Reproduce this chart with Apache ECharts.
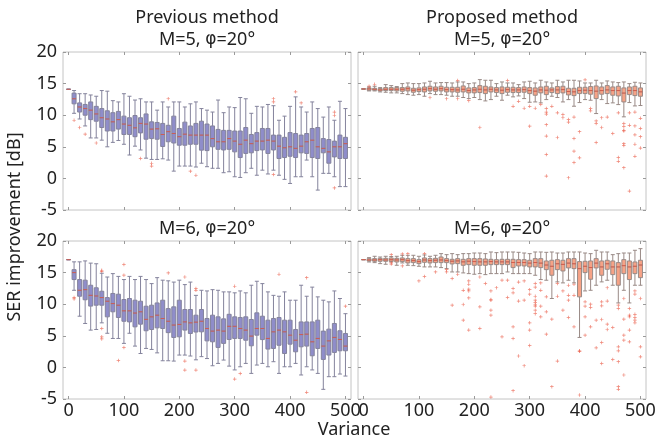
<!DOCTYPE html>
<html>
<head>
<meta charset="utf-8">
<script src="https://cdn.jsdelivr.net/npm/echarts@6/dist/echarts.min.js"></script>
<style>
html,body{margin:0;padding:0;background:#fff;}
#chart{width:664px;height:440px;}
</style>
</head>
<body>
<div id="chart"></div>
<script>
// ---------- data ----------
const variance = [0,10,20,30,40,50,60,70,80,90,100,110,120,130,140,150,160,170,180,190,200,210,220,230,240,250,260,270,280,290,300,310,320,330,340,350,360,370,380,390,400,410,420,430,440,450,460,470,480,490,500];
const xTickValues = [0,100,200,300,400,500];
const yTickValues = [-5,0,5,10,15,20];
const panelTitles = ['Previous method\nM=5, {p|φ}=20°','Proposed method\nM=5, {p|φ}=20°','M=6, {p|φ}=20°','M=6, {p|φ}=20°'];
const xAxisName = 'Variance';
const yAxisName = 'SER improvement [dB]';

// Previous method, M=5
const prevM5Low = [14.1,10.3,9.4,8.3,6.4,6.4,6.05,5.0,5.7,6.0, 5.4,3.7,5.1,4.5,3.2,3.0,3.0,3.1,2.9,1.15, 1.95,1.95,1.95,1.8,2.4,1.85,1.6,1.6,0.9,1.05, 0.26,0.15,0.9,1.6,0.5,1.3,0.7,1.3,0.5,-0.15, -0.8,0.26,0.26,2.9,0.26,-1.85,0.8,0.8,0.26,-1.3, -1.3];
const prevM5Q1 = [14.1,11.8,10.5,10.0,9.3,9.05,8.05,7.5,7.5,7.8, 6.95,6.95,6.6,7.2,6.2,6.3,6.2,5.05,5.8,5.6, 5.25,5.25,5.4,5.4,4.47,4.4,5.0,4.6,4.5,4.6, 4.2,3.3,3.95,4.05,4.4,4.5,3.95,4.5,3.15,3.3, 3.5,3.3,4.05,3.95,3.3,3.15,4.05,2.4,3.4,3.15, 3.15];
const prevM5Med = [14.1,12.6,11.3,11.05,10.8,10.2,9.6,9.4,8.95,9.3, 8.6,8.4,8.0,8.7,8.6,7.8,7.85,6.95,7.4,7.1, 6.6,7.0,6.85,6.85,6.85,6.85,6.3,5.8,5.8,6.3, 5.9,5.4,6.05,5.5,5.9,5.9,6.05,5.9,5.1,4.85, 5.0,4.75,5.1,5.8,6.05,5.0,4.75,4.2,5.0,5.0, 5.5];
const prevM5Q3 = [14.1,13.5,11.95,11.7,12.1,11.4,11.05,10.7,10.4,10.6, 9.85,9.6,9.95,9.6,10.2,8.95,8.85,8.7,8.4,9.85, 7.9,8.9,8.3,8.7,9.05,8.6,8.3,7.75,7.6,7.6, 7.5,7.5,8.05,6.95,7.25,7.9,7.9,6.85,6.85,6.5, 7.25,7.1,6.85,7.1,7.9,8.05,6.3,6.15,5.9,6.85, 6.5];
const prevM5High = [14.1,13.9,13.4,13.4,13.2,13.0,13.9,13.8,12.3,12.1, 13.4,13.0,12.4,12.6,12.1,12.1,10.8,12.1,11.3,12.1, 12.1,11.3,11.8,12.1,11.05,10.8,10.5,12.4,10.4,11.3, 11.2,12.8,12.6,10.3,11.4,11.3,11.7,11.5,9.2,9.85, 11.4,12.9,11.3,10.5,12.1,11.05,9.7,11.3,9.2,12.2, 11.05];
const prevM5Outliers = [[10,9.2],[20,8.05],[30,7.0],[50,5.6],[130,3.16],[150,2.4],[150,1.95],[180,12.6],[220,1.15],[230,0.5],[370,12.6],[370,12.1],[370,0.6],[410,13.7],[420,11.95],[480,10.5],[480,9.95],[480,-1.5]];

// Proposed method, M=5
const propM5Low = [14.15,13.84,13.84,13.68,13.63,13.53,13.53,13.42,13.26,13.16, 13.26,13.0,13.42,13.26,13.26,13.16,13.0,13.0,12.8,12.63, 12.8,12.47,12.26,12.47,13.0,12.37,13.16,12.9,13.05,12.63, 12.05,12.1,11.95,12.47,13.0,12.8,12.1,12.47,11.42,12.0, 12.47,12.37,10.26,12.47,11.84,11.95,11.68,9.74,12.0,11.47, 11.53];
const propM5Q1 = [14.15,13.95,13.95,13.84,13.89,13.89,13.84,13.79,13.84,13.63, 13.74,13.68,13.84,13.79,13.84,13.68,13.68,13.63,13.68,13.53, 13.53,13.58,13.42,13.68,13.58,13.42,13.63,13.58,13.58,13.63, 13.42,13.16,13.53,13.26,13.58,13.42,13.53,13.21,13.1,13.42, 13.42,13.32,12.63,13.32,13.42,13.16,13.05,12.1,13.26,13.1, 13.0];
const propM5Med = [14.15,14.16,14.1,14.0,14.1,14.1,14.1,14.1,14.2,13.95, 14.05,14.1,14.2,14.1,14.2,14.05,14.05,14.0,14.1,13.9, 14.0,14.1,14.0,14.1,14.0,13.95,14.05,14.0,14.0,14.05, 13.9,13.8,14.0,13.95,14.0,14.0,14.05,13.75,13.7,13.9, 13.95,13.9,13.8,13.9,14.0,13.9,13.9,13.5,13.9,13.9, 13.7];
const propM5Q3 = [14.15,14.32,14.26,14.21,14.37,14.37,14.37,14.37,14.47,14.26, 14.32,14.47,14.58,14.47,14.58,14.42,14.42,14.42,14.63,14.32, 14.37,14.68,14.58,14.47,14.37,14.47,14.42,14.42,14.37,14.47, 14.37,14.32,14.47,14.58,14.32,14.53,14.58,14.26,14.26,14.42, 14.42,14.53,14.63,14.47,14.68,14.47,14.58,14.32,14.47,14.58, 14.32];
const propM5High = [14.15,14.47,14.58,14.37,14.84,14.68,14.53,15.0,15.1,15.0, 15.0,15.1,15.37,15.1,15.16,15.16,15.1,15.26,15.26,15.0, 15.1,15.63,15.53,15.53,15.0,15.26,15.1,15.1,14.84,15.26, 15.37,15.1,15.53,15.26,15.1,15.53,15.26,15.53,15.53,15.42, 15.1,15.1,15.53,15.1,15.42,15.26,15.16,15.26,15.0,15.21, 15.1];
const propM5Outliers = [[10,14.6],[20,14.9],[120,12.8],[150,12.6],[170,15.5],[170,12.6],[190,12.3],[210,8.05],[260,15.5],[270,11.4],[280,12.2],[290,11.1],[300,11.4],[300,8.26],[310,11.1],[320,11.7],[330,11.05],[330,10.5],[330,10.16],[330,8.5],[330,6.7],[330,3.8],[330,0.37],[340,11.4],[350,10.37],[350,6.47],[360,10.1],[360,9.6],[370,9.3],[370,8.9],[370,0.1],[380,9.7],[380,6.3],[380,4.3],[380,2.5],[390,7.4],[390,3.26],[400,15.6],[410,11.05],[410,10.7],[420,9.1],[420,8.7],[420,5.7],[430,9.6],[430,8.05],[440,9.7],[450,7.1],[460,10.37],[460,3.3],[460,2.7],[470,8.7],[470,8.2],[470,7.6],[470,7.5],[470,5.5],[470,5.2],[470,1.7],[480,10.37],[480,8.4],[480,-2.0],[490,10.5],[490,8.3],[490,6.9],[490,5.4],[490,3.5],[500,9.5],[500,7.9],[500,6.6],[500,4.8]];

// Previous method, M=6
const prevM6Low = [17.05,12.2,8.1,6.95,5.9,6.0,7.05,5.4,4.58,4.58, 3.8,5.4,3.37,2.2,3.0,2.84,2.3,1.05,1.05,1.0, 1.95,1.95,1.8,1.2,1.7,1.4,0.26,0.63,1.16,0.2, -0.4,0.1,0.63,-0.95,0.37,0.63,0.1,0.9,-0.95,0.1, 0.1,0.63,-1.2,0.1,-0.4,-0.95,-3.47,-1.47,-1.47,-1.05, -1.37];
const prevM6Q1 = [17.05,13.9,11.26,10.7,9.7,9.84,9.84,8.0,8.8,7.9, 7.3,7.2,6.42,6.84,5.8,6.0,6.26,6.16,5.5,4.74, 4.84,5.9,5.37,5.6,5.63,4.2,4.05,3.16,3.8,4.42, 4.58,4.58,4.3,3.42,5.1,4.4,2.9,3.0,3.5,2.2, 3.68,2.47,3.26,3.37,1.84,3.0,1.26,1.95,2.37,2.63, 2.63];
const prevM6Med = [17.05,15.0,12.2,12.3,11.4,11.3,11.05,10.47,10.1,9.84, 8.95,8.95,8.6,8.8,7.6,8.0,8.26,7.74,7.3,6.7, 6.8,7.2,7.05,7.16,7.3,6.16,5.74,5.9,5.74,6.5, 6.5,6.16,5.9,4.95,6.16,6.16,4.58,5.63,5.9,5.63, 5.1,4.3,5.2,5.26,4.05,4.58,3.37,4.2,4.74,4.42, 3.37];
const prevM6Q3 = [17.05,15.47,13.9,13.8,13.0,12.6,12.05,11.05,11.7,11.58, 10.74,10.9,10.63,10.47,9.68,9.84,10.2,10.63,9.3,9.58, 10.63,9.16,9.16,8.26,9.16,7.74,8.26,8.0,7.68,8.4, 8.0,7.9,8.0,7.58,8.63,8.1,7.47,7.74,7.9,7.47, 7.47,6.0,7.2,7.2,7.2,7.47,5.74,6.05,6.95,5.8, 5.37];
const prevM6High = [17.05,16.7,16.7,16.85,16.5,16.4,14.9,14.3,14.84,14.4, 13.9,14.4,13.9,14.4,13.9,13.26,14.2,13.8,13.7,13.5, 13.8,13.1,13.5,11.4,12.2,12.1,12.3,12.2,11.95,11.95, 11.8,12.1,11.8,13.0,13.63,13.26,11.95,11.4,11.26,11.95, 10.63,10.63,13.0,11.26,12.7,11.16,10.63,10.37,12.1,10.9, 8.5];
const prevM6Outliers = [[10,11.05],[10,10.84],[60,15.37],[60,15.2],[60,6.16],[60,4.84],[60,4.5],[90,1.1],[100,16.3],[100,14.6],[100,3.16],[180,14.95],[210,14.3],[210,1.0],[210,-0.42],[230,12.47],[230,12.2],[230,-0.42],[300,12.84],[300,-1.84],[310,-0.95],[380,14.74],[430,14.2],[430,-3.95],[500,9.68]];

// Proposed method, M=6
const propM6Low = [17.05,16.68,16.58,16.42,16.32,16.7,16.16,16.53,16.16,16.1, 16.0,15.9,15.9,15.9,15.79,15.63,15.1,15.1,14.95,14.84, 14.74,14.84,14.68,14.84,14.84,14.84,15.1,14.84,14.84,14.84, 14.84,14.58,13.9,13.79,10.9,13.53,13.37,13.79,13.37,4.74, 12.1,12.2,13.0,13.53,13.79,13.0,10.2,12.2,10.2,13.0, 13.0];
const propM6Q1 = [17.05,16.84,16.79,16.79,16.79,16.79,16.68,16.74,16.53,16.58, 16.42,16.63,16.53,16.58,16.58,16.58,16.37,16.42,16.16,16.26, 16.16,16.16,16.16,16.26,16.26,16.26,16.26,15.79,16.05,16.05, 15.9,15.9,15.79,15.47,14.58,15.47,15.26,15.74,15.63,11.16, 15.0,13.95,15.74,14.58,15.53,14.68,13.0,14.84,13.9,14.84, 14.2];
const propM6Med = [17.05,17.0,17.0,17.05,17.0,17.05,17.0,17.05,16.9,16.9, 16.75,17.0,16.9,16.95,17.0,16.9,16.8,16.85,16.7,16.8, 16.75,16.7,16.7,16.75,16.7,16.7,16.7,16.6,16.6,16.6, 16.5,16.6,16.5,16.2,16.0,16.4,16.3,16.5,16.4,15.63, 16.0,15.8,16.5,15.9,16.4,15.9,15.9,16.1,15.9,16.0, 16.2];
const propM6Q3 = [17.05,17.2,17.21,17.26,17.26,17.32,17.26,17.32,17.21,17.21, 17.05,17.32,17.21,17.26,17.47,17.21,17.1,17.21,17.1,17.21, 17.21,17.21,17.16,17.1,17.05,17.1,17.1,17.1,17.05,17.05, 16.95,17.21,17.21,16.84,16.95,17.05,16.95,17.21,17.21,16.74, 16.79,16.84,17.21,16.84,16.95,16.84,16.58,17.05,16.84,16.68, 16.95];
const propM6High = [17.05,17.37,17.58,17.47,17.58,17.55,17.58,17.74,17.74,17.74, 17.58,17.79,17.58,17.74,18.0,17.84,18.0,17.84,18.0,18.0, 18.1,18.1,18.0,18.26,18.16,18.26,18.26,18.26,18.21,18.1, 18.0,18.26,18.26,18.21,18.26,18.1,18.1,18.26,18.26,18.26, 18.1,18.0,18.53,18.26,18.26,17.84,18.0,18.1,18.1,18.53, 18.79];
const propM6Outliers = [[50,17.84],[50,16.55],[50,16.35],[70,17.95],[70,16.05],[80,18.0],[100,13.68],[110,18.0],[110,14.4],[130,15.1],[150,15.47],[150,15.1],[160,14.05],[160,9.84],[170,14.74],[180,12.2],[180,9.95],[180,7.47],[190,13.68],[190,13.16],[190,12.37],[190,12.1],[190,11.0],[190,5.9],[210,14.3],[210,9.58],[210,6.16],[220,13.26],[230,12.1],[230,10.74],[230,10.63],[230,9.05],[230,8.26],[230,-4.7],[240,12.6],[250,13.8],[250,4.84],[260,13.8],[260,11.05],[270,12.47],[270,11.8],[270,6.42],[270,4.58],[270,-3.68],[280,13.5],[280,10.5],[280,1.8],[290,13.68],[290,10.63],[290,0.26],[300,12.3],[300,11.58],[300,7.05],[300,5.9],[300,3.47],[310,13.26],[310,12.7],[310,11.26],[310,10.63],[310,10.3],[310,9.9],[310,9.68],[310,9.05],[310,8.5],[320,13.37],[320,12.2],[320,9.68],[320,8.0],[330,11.16],[330,8.8],[330,5.26],[340,7.63],[340,-3.05],[350,13.26],[350,11.26],[350,1.0],[360,12.1],[360,9.05],[370,13.0],[370,11.4],[370,10.63],[370,7.9],[380,13.16],[380,11.4],[380,6.42],[390,2.63],[390,2.55],[390,-4.37],[400,10.37],[400,9.68],[400,8.0],[400,5.1],[410,10.0],[410,9.47],[410,6.42],[420,7.47],[420,3.1],[430,10.37],[430,9.74],[430,7.58],[430,3.95],[430,0.63],[440,12.6],[440,10.5],[440,6.84],[440,6.0],[450,6.3],[450,1.26],[460,9.84],[460,9.3],[460,3.26],[460,2.63],[460,0.9],[460,-3.05],[460,-3.47],[470,10.9],[470,7.63],[470,5.1],[470,4.3],[470,-1.2],[480,9.3],[480,8.26],[480,8.0],[480,5.9],[480,4.05],[490,12.1],[490,11.58],[490,8.4],[490,7.9],[490,7.47],[490,7.05],[500,10.9],[500,3.26],[500,1.68]];

// ---------- chart ----------
const FONT = '"Noto Sans", "Open Sans", sans-serif';
const TEXT = '#222';
const FS = 18;
const panels = [
  {low:prevM5Low,q1:prevM5Q1,med:prevM5Med,q3:prevM5Q3,high:prevM5High,out:prevM5Outliers,fill:'#8f8dca',border:'#84839c',grid:{left:63,top:52,width:288,height:158},yLab:true,xLab:false},
  {low:propM5Low,q1:propM5Q1,med:propM5Med,q3:propM5Q3,high:propM5High,out:propM5Outliers,fill:'#f6a286',border:'#998a86',grid:{left:358,top:52,width:288,height:158},yLab:false,xLab:false},
  {low:prevM6Low,q1:prevM6Q1,med:prevM6Med,q3:prevM6Q3,high:prevM6High,out:prevM6Outliers,fill:'#8f8dca',border:'#84839c',grid:{left:63,top:241,width:288,height:158},yLab:true,xLab:true},
  {low:propM6Low,q1:propM6Q1,med:propM6Med,q3:propM6Q3,high:propM6High,out:propM6Outliers,fill:'#f6a286',border:'#998a86',grid:{left:358,top:241,width:288,height:158},yLab:false,xLab:true}
];

const grids=[], xAxes=[], yAxes=[], series=[];
const tickStyle = {show:true, inside:true, length:3, lineStyle:{color:'#9a9a9a', width:1}};
const noLine = {show:false, onZero:false};
panels.forEach((p,i)=>{
  grids.push(Object.assign({show:true, borderColor:'#c4c4c4', borderWidth:1, backgroundColor:'#fff', containLabel:false}, p.grid));
  xAxes.push({type:'value', gridIndex:i, min:-10, max:510, position:'bottom',
    axisLine:noLine, splitLine:{show:false},
    axisTick:Object.assign({customValues:xTickValues}, tickStyle),
    axisLabel:{show:p.xLab, customValues:xTickValues, margin:3, fontSize:FS, color:TEXT, fontFamily:FONT}});
  yAxes.push({type:'value', gridIndex:i, min:-5, max:20, interval:5, position:'left',
    axisLine:noLine, splitLine:{show:false}, axisTick:tickStyle,
    axisLabel:{show:p.yLab, margin:6, fontSize:FS, color:TEXT, fontFamily:FONT}});
});
panels.forEach((p,i)=>{
  xAxes.push({type:'value', gridIndex:i, min:-10, max:510, position:'top',
    axisLine:noLine, splitLine:{show:false},
    axisTick:Object.assign({customValues:xTickValues}, tickStyle),
    axisLabel:{show:false}});
  yAxes.push({type:'value', gridIndex:i, min:-5, max:20, interval:5, position:'right',
    axisLine:noLine, splitLine:{show:false}, axisTick:tickStyle, axisLabel:{show:false}});
});

panels.forEach((p,i)=>{
  series.push({type:'boxplot', xAxisIndex:i, yAxisIndex:i, silent:true, boxWidth:[4,4],
    itemStyle:{color:p.fill, borderColor:p.border, borderWidth:1},
    emphasis:{disabled:true},
    data: variance.map((x,k)=>[x, p.low[k], p.q1[k], p.med[k], p.q3[k], p.high[k]]), z:2});
  series.push({type:'scatter', xAxisIndex:i, yAxisIndex:i, silent:true, symbol:'rect', symbolSize:[4,1],
    itemStyle:{color:'#e4503c', opacity:0.75}, data: variance.map((x,k)=>[x, p.med[k]]), z:3});
  series.push({type:'scatter', xAxisIndex:i, yAxisIndex:i, silent:true,
    symbol:'path://M2,0H3V2H5V3H3V5H2V3H0V2H2Z', symbolSize:3.5,
    itemStyle:{color:'#e8503a', opacity:0.7}, data: p.out, z:3});
});

const titleX = [207, 502, 207, 502];
const titleY = [29, 29, 229, 229];
const rich = {p:{fontFamily:'"DejaVu Sans", sans-serif', fontSize:FS-1, fill:TEXT, lineHeight:22}};
const graphics = panelTitles.map((t,i)=>({type:'text', x:titleX[i], y:titleY[i],
  style:{text:t, textAlign:'center', textVerticalAlign:'middle', fill:TEXT, fontSize:FS, fontFamily:FONT, lineHeight:22, rich:rich}}));
graphics.push({type:'text', x:354, y:430, style:{text:xAxisName, textAlign:'center', textVerticalAlign:'middle', fill:TEXT, fontSize:FS, fontFamily:FONT}});
graphics.push({type:'text', x:15, y:227, rotation:Math.PI/2, style:{text:yAxisName, textAlign:'center', textVerticalAlign:'middle', fill:TEXT, fontSize:FS, fontFamily:FONT}});

const chart = echarts.init(document.getElementById('chart'), null, {renderer:'canvas'});
chart.setOption({animation:false, backgroundColor:'#fff', grid:grids, xAxis:xAxes, yAxis:yAxes, series:series, graphic:graphics});
</script>
</body>
</html>
